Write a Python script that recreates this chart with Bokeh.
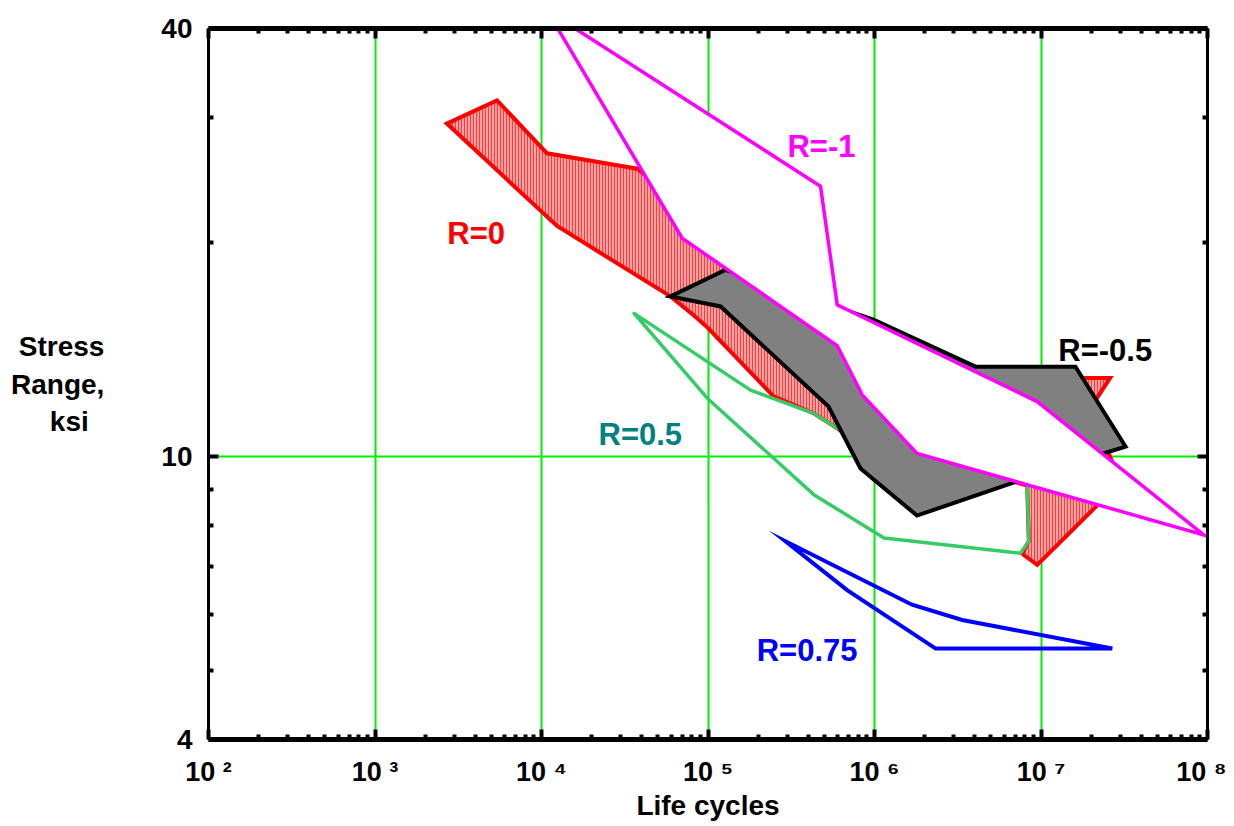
from bokeh.plotting import figure
from bokeh.models import FixedTicker, LogAxis, Label, Range1d
from bokeh.embed import file_html
from bokeh.resources import INLINE

# ---------------- data (life cycles N, stress range S in ksi) ----------------
# R = 0 scatter band (hatched red)
r0_cycles = [2.7e3, 5.4e3, 1.08e4, 3.76e4, 5.44e5, 2.86e6, 1.31e7, 2.6e7, 1.98e7,
             3.0e7, 9.5e6, 7.7e6, 8.45e6, 8.26e6, 5.7e6, 1.43e6, 5.97e5, 4.32e5,
             2.48e5, 9.9e4, 8.2e4, 5.95e4, 1.24e4]
r0_stress = [29.4, 31.7, 26.7, 25.4, 15.5, 12.75, 12.9, 12.9, 11.7,
             9.2, 7.04, 7.3, 7.6, 9.1, 9.34, 9.53, 10.96, 11.5,
             12.15, 15.2, 15.8, 16.8, 21.1]

# R = 0.5 band (green outline)
r05_cycles = [3.6e4, 1.8e5, 4.32e5, 5.97e5, 1.43e6, 5.7e6, 8.26e6, 8.45e6,
              7.53e6, 1.14e6, 4.32e5, 9.9e4]
r05_stress = [15.9, 12.4, 11.5, 10.96, 9.78, 9.53, 9.19, 7.6,
              7.31, 7.68, 8.84, 12.08]

# R = -0.5 band (grey)
rm05_cycles = [5.95e4, 1.27e5, 9.86e5, 4.04e6, 1.61e7, 3.22e7, 2.37e7, 6.83e6,
               1.8e6, 8.24e5, 5.29e5, 1.19e5]
rm05_stress = [16.8, 18.3, 15.58, 13.38, 13.38, 10.33, 10.1, 9.19,
               8.26, 9.62, 11.76, 16.26]

# R = -1 band (magenta outline, white inside)
rm1_cycles = [1.08e4, 4.74e5, 5.97e5, 9.49e6, 9.5e7, 1.8e6, 8.44e5, 5.97e5, 7.0e4]
rm1_stress = [42.4, 24.0, 16.35, 11.95, 7.76, 10.1, 12.21, 14.32, 20.28]

# R = 0.75 band (blue outline)
r075_cycles = [2.92e5, 1.68e6, 3.36e6, 2.68e7, 2.33e6, 6.85e5]
r075_stress = [7.6, 6.19, 5.89, 5.37, 5.37, 6.49]

# axis ticks / labels
x_ticks = [1e2, 1e3, 1e4, 1e5, 1e6, 1e7, 1e8]
x_tick_labels = ["10 \u00b2", "10 \u00b3", "10 \u2074", "10 \u2075", "10 \u2076", "10 \u2077", "10 \u2078"]
x_minor = [m * t for t in x_ticks[:-1] for m in range(2, 10)]
y_ticks = [4, 10, 40]
y_tick_labels = ["4", "10", "40"]
y_minor = [5, 6, 7, 8, 9, 20, 30]

# curve labels: text, N, S, colour
curve_labels = ["R=0", "R=-1", "R=-0.5", "R=0.5", "R=0.75"]
curve_label_n = [2.72e3, 3.0e5, 1.27e7, 2.2e4, 1.96e5]
curve_label_s = [20.6, 27.3, 14.1, 10.74, 5.34]
curve_label_colors = ["#ff0000", "#ff00ff", "#000000", "#008080", "#0000ff"]

FONT = "Liberation Sans"

p = figure(x_axis_type="log", y_axis_type="log",
           x_range=Range1d(1e2, 1e8), y_range=Range1d(4, 40),
           frame_width=999, frame_height=711,
           min_border_left=208, min_border_right=19,
           min_border_top=28, min_border_bottom=79,
           output_backend="svg", toolbar_location=None)
p.outline_line_color = None
p.background_fill_color = "white"
p.border_fill_color = "white"

# grid
p.xgrid.grid_line_color = "#00ee00"
p.xgrid.grid_line_width = 2
p.ygrid.grid_line_color = "#00ee00"
p.ygrid.grid_line_width = 2
p.xgrid.ticker = FixedTicker(ticks=x_ticks)
p.ygrid.ticker = FixedTicker(ticks=y_ticks)

xt = dict(zip(x_ticks, x_tick_labels))
yt = dict(zip(y_ticks, y_tick_labels))


def style_axis(ax, line_w, major_in, minor_in, labels, size="28px"):
    ax.axis_line_width = line_w
    ax.axis_line_color = "black"
    ax.major_tick_in = major_in
    ax.major_tick_out = 0
    ax.minor_tick_in = minor_in
    ax.minor_tick_out = 0
    ax.major_tick_line_width = 4
    ax.minor_tick_line_width = 4
    ax.major_tick_line_color = "black"
    ax.minor_tick_line_color = "black"
    ax.major_label_text_font = FONT
    ax.major_label_text_font_style = "bold"
    ax.major_label_text_font_size = size
    ax.major_label_text_color = "black"
    ax.major_label_overrides = labels


bx = p.xaxis[0]
bx.ticker = FixedTicker(ticks=x_ticks, minor_ticks=x_minor)
style_axis(bx, 5, 10, 5, xt, "27px")
bx.major_label_standoff = 17
bx.axis_label = "Life cycles"
bx.axis_label_text_font = FONT
bx.axis_label_text_font_style = "bold"
bx.axis_label_text_font_size = "28px"
bx.axis_label_text_color = "black"
bx.axis_label_standoff = 0

ly = p.yaxis[0]
ly.ticker = FixedTicker(ticks=y_ticks, minor_ticks=y_minor)
style_axis(ly, 3, 10, 5, yt)
ly.major_label_standoff = 16
ly.axis_label = "Stress\nRange,\nksi\u00a0\u00a0"
ly.axis_label_orientation = "horizontal"
ly.axis_label_text_font = FONT
ly.axis_label_text_font_style = "bold"
ly.axis_label_text_font_size = "28px"
ly.axis_label_text_color = "black"
ly.axis_label_standoff = 54

top = LogAxis(ticker=FixedTicker(ticks=x_ticks, minor_ticks=x_minor))
style_axis(top, 5, 10, 5, {t: "" for t in x_ticks})
p.add_layout(top, "above")

right = LogAxis(ticker=FixedTicker(ticks=y_ticks, minor_ticks=y_minor))
style_axis(right, 3, 10, 5, {t: "" for t in y_ticks})
p.add_layout(right, "right")

# bands
p.patch(r0_cycles, r0_stress, fill_color="#ffa8a8", line_color="#ff0000", line_width=4,
        hatch_pattern="vertical_line", hatch_color="#ff3b3b", hatch_scale=3, hatch_weight=1.2,
        line_join="miter")
p.patch(r05_cycles, r05_stress, fill_color=None, line_color="#33cc66", line_width=3.5,
        line_join="round")
p.patch(rm05_cycles, rm05_stress, fill_color="#808080", line_color="black", line_width=4,
        line_join="miter")
p.patch(rm1_cycles, rm1_stress, fill_color="white", line_color="#ff00ff", line_width=3.5,
        line_join="miter")
p.patch(r075_cycles, r075_stress, fill_color=None, line_color="#0000ff", line_width=4,
        line_join="miter")

for txt, n, s, c in zip(curve_labels, curve_label_n, curve_label_s, curve_label_colors):
    p.add_layout(Label(x=n, y=s, text=txt, text_color=c, text_font=FONT,
                       text_font_style="bold", text_font_size="31px",
                       text_align="left", text_baseline="middle"))

open("out.html", "w").write(file_html(p, INLINE))
